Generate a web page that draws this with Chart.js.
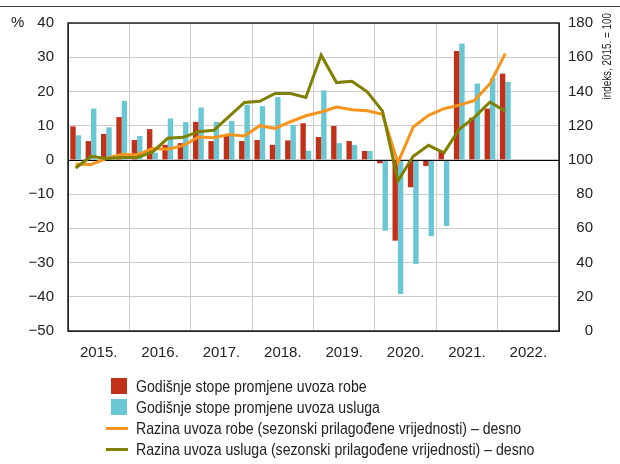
<!DOCTYPE html>
<html>
<head>
<meta charset="utf-8">
<script src="https://cdn.jsdelivr.net/npm/chart.js@4"></script>
<style>
  body { margin: 0; background: #fff; }
  #wrap { position: relative; width: 620px; height: 464px; }
  #legend { position: absolute; left: 0; top: 376px; font: 17px 'Liberation Sans', sans-serif; color: #222; }
  .item { position: relative; height: 21px; line-height: 21px; white-space: nowrap; }
  .txt { position: absolute; left: 136px; top: 0; transform: scaleX(0.83); transform-origin: left center; }
  .box { position: absolute; left: 111px; top: 2px; width: 16px; height: 16px; }
  .line { position: absolute; left: 106px; top: 9px; width: 22px; height: 3px; }
</style>
</head>
<body>
<div id="wrap">
  <canvas id="chart" width="620" height="464"></canvas>
  <div id="legend"></div>
</div>
<script>
const FONT = "'Liberation Sans', sans-serif";

const years = ['2015.', '2016.', '2017.', '2018.', '2019.', '2020.', '2021.', '2022.'];
const quarters = [
  '2015Q1', '2015Q2', '2015Q3', '2015Q4', '2016Q1', '2016Q2', '2016Q3', '2016Q4',
  '2017Q1', '2017Q2', '2017Q3', '2017Q4', '2018Q1', '2018Q2', '2018Q3', '2018Q4',
  '2019Q1', '2019Q2', '2019Q3', '2019Q4', '2020Q1', '2020Q2', '2020Q3', '2020Q4',
  '2021Q1', '2021Q2', '2021Q3', '2021Q4', '2022Q1', '2022Q2', '2022Q3', '2022Q4',
];

// godisnje stope promjene, %
const goodsRate = [
  9.8, 5.5, 7.6, 12.5, 5.8, 9.0, 4.4, 4.9,
  11.1, 5.5, 7.3, 5.5, 5.8, 4.4, 5.7, 10.7,
  6.7, 9.9, 5.5, 2.6, -1.0, -23.6, -8.0, -1.8,
  2.6, 31.8, 12.3, 15.0, 25.2,
];
const servicesRate = [
  7.2, 15.0, 9.5, 17.2, 7.0, 2.1, 12.1, 11.0,
  15.3, 11.1, 11.4, 16.1, 15.7, 18.3, 10.2, 2.7,
  20.3, 4.9, 4.4, 2.6, -20.7, -39.2, -30.4, -22.3,
  -19.3, 34.0, 22.3, 23.9, 22.8,
];

// razine, indeks 2015. = 100
const goodsLevel = [
  97.5, 97.3, 100.8, 103.3, 102.9, 106.6, 106.2, 108.3,
  113.4, 113.0, 114.8, 114.0, 120.0, 118.4, 122.3, 125.8,
  128.0, 130.9, 129.3, 128.7, 126.6, 98.4, 119.2, 126.0,
  129.9, 132.0, 134.8, 144.5, 162.1,
];
const servicesLevel = [
  95.3, 102.1, 100.8, 101.4, 101.4, 104.5, 112.6, 113.2,
  116.5, 117.3, 125.4, 133.6, 134.2, 138.8, 138.8, 136.5,
  161.2, 145.2, 146.0, 139.8, 128.5, 87.7, 102.1, 108.5,
  104.1, 117.9, 125.0, 133.8, 128.5,
];

const RED = '#c1311a';
const BLUE = '#69c6d3';
const ORANGE = '#f7941d';
const OLIVE = '#7f7f00';

const minus = (v) => String(v).replace('-', '\u2212');

// okvir, nulta linija, oznake osi
const decor = {
  id: 'decor',
  afterDatasetDraw(chart, args) {
    if (args.index !== 0) return;
    const { ctx, chartArea } = chart;
    const y0 = chart.scales.y.getPixelForValue(0);
    ctx.save();
    ctx.strokeStyle = '#000';
    ctx.lineWidth = 1;
    ctx.beginPath();
    ctx.moveTo(chartArea.left, Math.round(y0) + 0.5);
    ctx.lineTo(chartArea.right, Math.round(y0) + 0.5);
    ctx.stroke();
    ctx.restore();
  },
  afterDraw(chart) {
    const { ctx, chartArea } = chart;
    ctx.save();
    ctx.strokeStyle = '#222';
    ctx.lineWidth = 1.5;
    ctx.strokeRect(chartArea.left, chartArea.top, chartArea.right - chartArea.left, chartArea.bottom - chartArea.top);
    ctx.strokeStyle = '#444';
    ctx.lineWidth = 1;
    ctx.beginPath();
    ctx.moveTo(0, 6.5);
    ctx.lineTo(620, 6.5);
    ctx.stroke();
    ctx.fillStyle = '#222';
    ctx.font = '15px ' + FONT;
    ctx.textBaseline = 'middle';
    ctx.textAlign = 'left';
    ctx.fillText('%', 11, chartArea.top);
    ctx.font = '13px ' + FONT;
    ctx.translate(607, 13);
    ctx.rotate(-Math.PI / 2);
    ctx.scale(0.76, 1);
    ctx.textAlign = 'right';
    ctx.fillText('indeks, 2015. = 100', 0, 0);
    ctx.restore();
  },
};

new Chart(document.getElementById('chart'), {
  type: 'bar',
  data: {
    labels: quarters,
    datasets: [
      { label: 'Godišnje stope promjene uvoza robe', data: goodsRate, backgroundColor: RED, order: 2 },
      { label: 'Godišnje stope promjene uvoza usluga', data: servicesRate, backgroundColor: BLUE, order: 2 },
      {
        type: 'line', label: 'Razina uvoza robe (sezonski prilagođene vrijednosti) – desno',
        data: goodsLevel, yAxisID: 'y2', borderColor: ORANGE, borderWidth: 3,
        pointRadius: 0, tension: 0, order: 1,
      },
      {
        type: 'line', label: 'Razina uvoza usluga (sezonski prilagođene vrijednosti) – desno',
        data: servicesLevel, yAxisID: 'y2', borderColor: OLIVE, borderWidth: 3,
        pointRadius: 0, tension: 0, order: 0,
      },
    ],
  },
  options: {
    responsive: false,
    animation: false,
    devicePixelRatio: 1,
    categoryPercentage: 0.7,
    barPercentage: 1.0,
    layout: { padding: { top: 22, bottom: 93, left: 0, right: 27 } },
    plugins: { legend: { display: false }, tooltip: { enabled: false } },
    scales: {
      x: { display: false, offset: true },
      xYear: {
        type: 'category',
        labels: years,
        position: 'bottom',
        offset: true,
        grid: { offset: true, color: '#cccccc', drawTicks: false },
        border: { color: '#222' },
        ticks: { color: '#222', font: { family: FONT, size: 15 }, padding: 13, maxRotation: 0, autoSkip: false },
        afterFit(scale) { scale.height = 40; },
      },
      y: {
        position: 'left',
        min: -50, max: 40,
        ticks: { stepSize: 10, color: '#222', font: { family: FONT, size: 15 }, padding: 14, callback: minus },
        grid: { color: '#cccccc', drawTicks: false },
        border: { color: '#222' },
        afterFit(scale) { scale.width = 68; },
      },
      y2: {
        position: 'right',
        min: 0, max: 180,
        ticks: { stepSize: 20, color: '#222', font: { family: FONT, size: 15 }, padding: 9, crossAlign: 'far' },
        grid: { display: false, drawTicks: false },
        border: { color: '#222' },
        afterFit(scale) { scale.width = 34; },
      },
    },
  },
  plugins: [decor],
});

// legenda
const legend = document.getElementById('legend');
[
  { text: 'Godišnje stope promjene uvoza robe', color: RED, kind: 'box' },
  { text: 'Godišnje stope promjene uvoza usluga', color: BLUE, kind: 'box' },
  { text: 'Razina uvoza robe (sezonski prilagođene vrijednosti) – desno', color: ORANGE, kind: 'line' },
  { text: 'Razina uvoza usluga (sezonski prilagođene vrijednosti) – desno', color: OLIVE, kind: 'line' },
].forEach((it) => {
  const row = document.createElement('div');
  row.className = 'item';
  const sw = document.createElement('span');
  sw.className = it.kind;
  sw.style.background = it.color;
  const txt = document.createElement('span');
  txt.className = 'txt';
  txt.textContent = it.text;
  row.appendChild(sw);
  row.appendChild(txt);
  legend.appendChild(row);
});
</script>
</body>
</html>
